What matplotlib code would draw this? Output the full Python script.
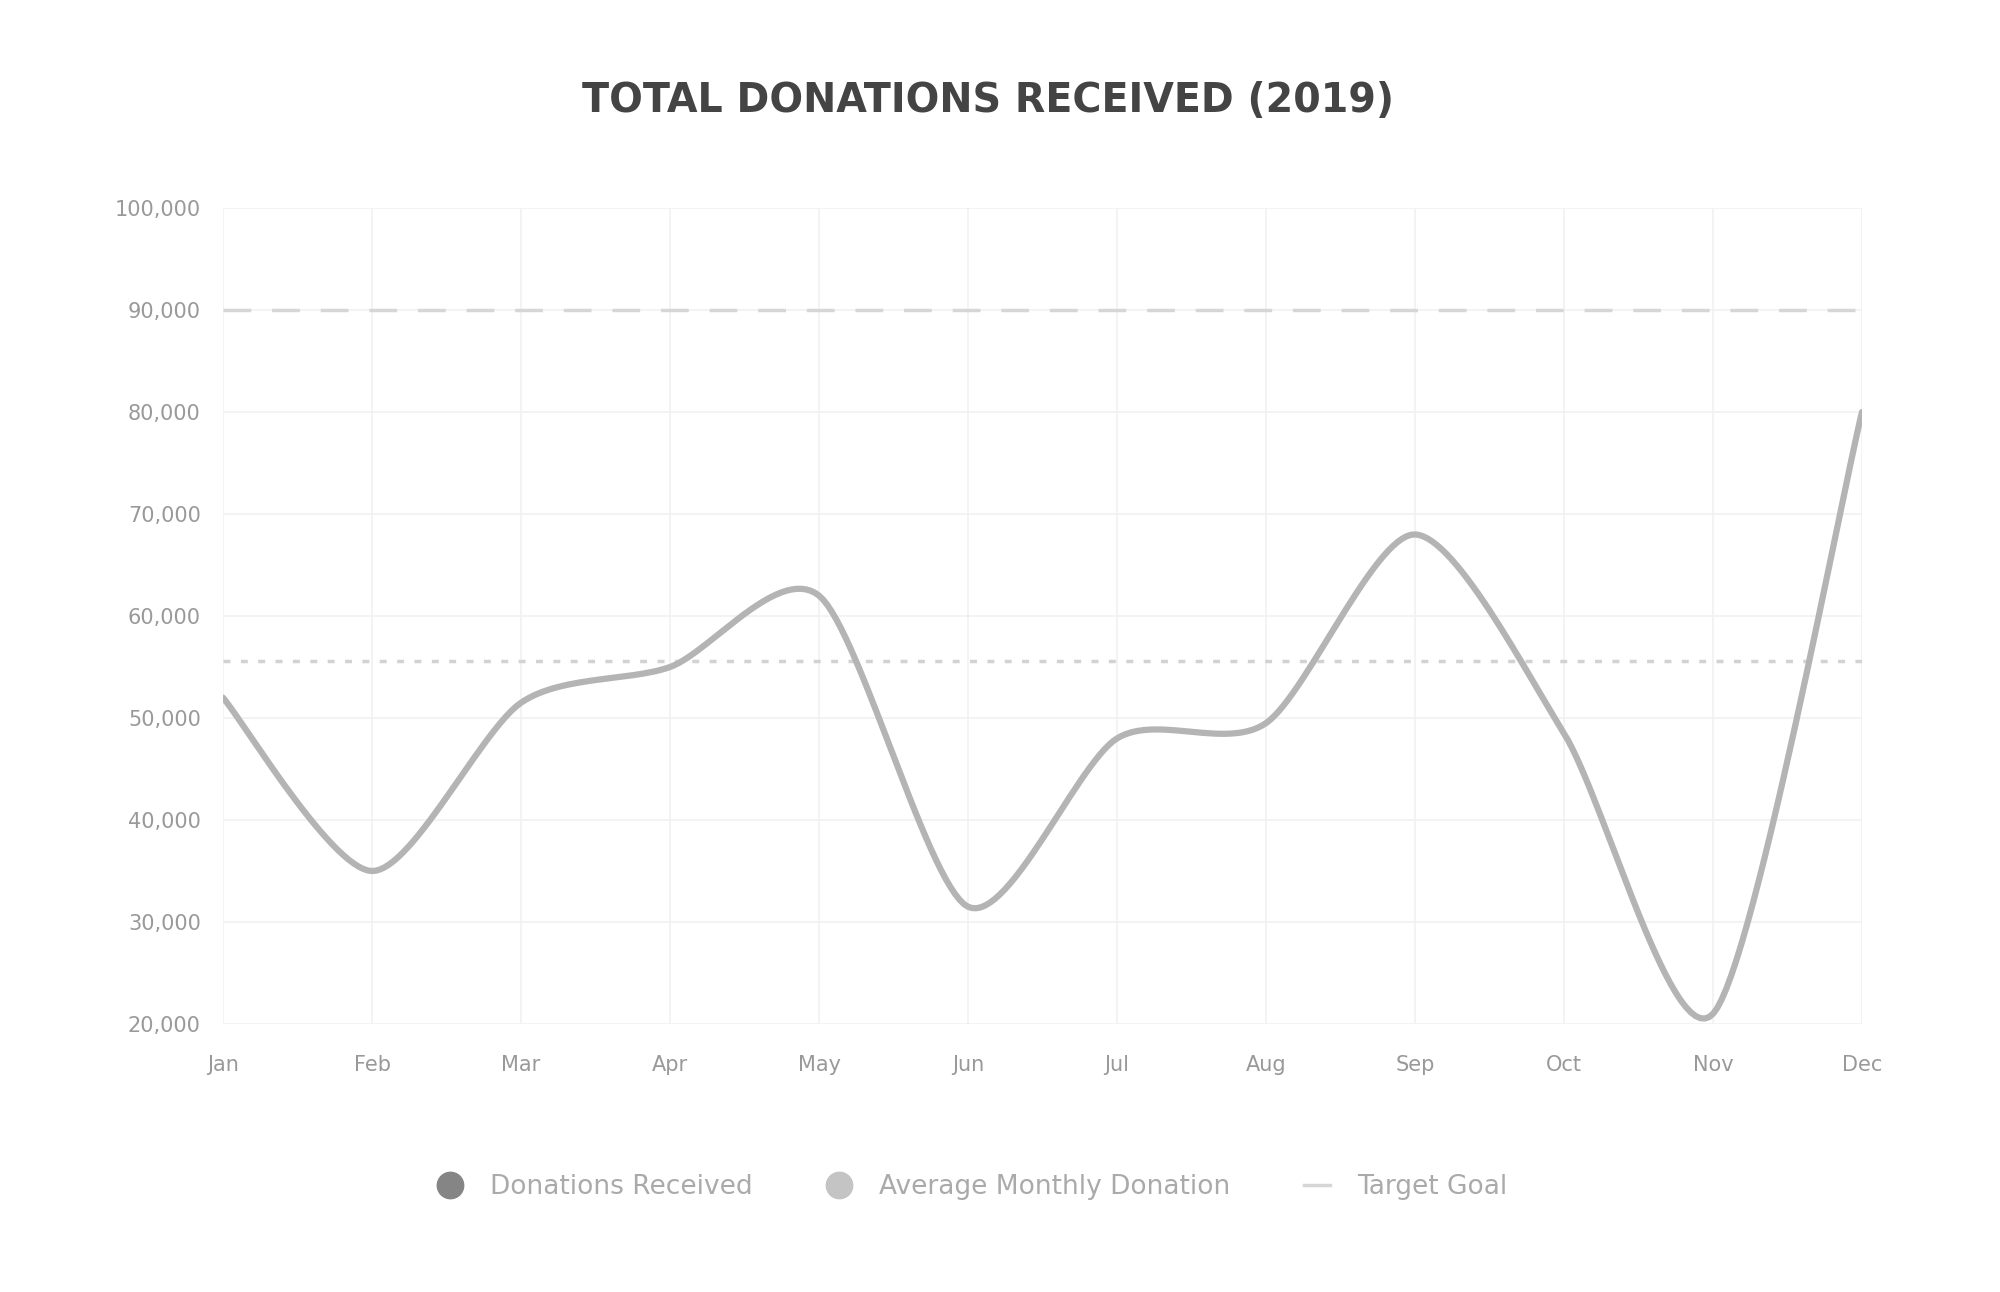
import numpy as np
import matplotlib
matplotlib.use("Agg")
import matplotlib.pyplot as plt
from matplotlib.lines import Line2D

# ---- data ----
months = ["Jan", "Feb", "Mar", "Apr", "May", "Jun", "Jul", "Aug", "Sep", "Oct", "Nov", "Dec"]
donations = [52000, 35000, 51500, 55000, 62000, 31500, 48000, 49500, 68000, 48500, 21000, 80000]
average_value = [55600] * 12
target_value = [90000] * 12
y_ticks = [20000, 30000, 40000, 50000, 60000, 70000, 80000, 90000, 100000]
title = "TOTAL DONATIONS RECEIVED (2019)"
legend_labels = ["Donations Received", "Average Monthly Donation", "Target Goal"]


def smooth(xs, ys, n=30, tension=0.4):
    xs = np.asarray(xs, float)
    ys = np.asarray(ys, float)
    px, py = [], []
    for i in range(len(xs) - 1):
        x0, y0 = xs[max(i - 1, 0)], ys[max(i - 1, 0)]
        x1, y1 = xs[i], ys[i]
        x2, y2 = xs[i + 1], ys[i + 1]
        x3, y3 = xs[min(i + 2, len(xs) - 1)], ys[min(i + 2, len(xs) - 1)]
        t = np.linspace(0, 1, n, endpoint=False)
        m1x, m1y = (x2 - x0) * tension, (y2 - y0) * tension
        m2x, m2y = (x3 - x1) * tension, (y3 - y1) * tension
        h00 = 2 * t**3 - 3 * t**2 + 1
        h10 = t**3 - 2 * t**2 + t
        h01 = -2 * t**3 + 3 * t**2
        h11 = t**3 - t**2
        px.append(h00 * x1 + h10 * m1x + h01 * x2 + h11 * m2x)
        py.append(h00 * y1 + h10 * m1y + h01 * y2 + h11 * m2y)
    px.append([xs[-1]])
    py.append([ys[-1]])
    return np.concatenate(px), np.concatenate(py)


plt.rcParams["font.family"] = ["DejaVu Sans"]

fig = plt.figure(figsize=(20, 12.92), dpi=100)
ax = fig.add_axes([0.1115, 0.2074, 0.8195, 0.6316])

x = np.arange(len(months))
sx, sy = smooth(x, donations)

line_col = "#b4b4b4"
avg_col = "#d2d2d2"
tgt_col = "#d6d6d6"

ax.plot(sx, sy, color=line_col, lw=4.5, solid_capstyle="round", zorder=3)
ax.plot(x, average_value, color=avg_col, lw=2.5, ls=(0, (2, 3)), zorder=2)
ax.plot(x, target_value, color=tgt_col, lw=2.5, ls=(0, (8, 6)), zorder=2)

ax.set_xlim(0, len(months) - 1)
ax.set_ylim(y_ticks[0], y_ticks[-1])
ax.set_xticks(x)
ax.set_xticklabels(months)
ax.set_yticks(y_ticks)
ax.set_yticklabels([f"{v:,}" for v in y_ticks])
ax.tick_params(axis="both", length=0, labelsize=15, colors="#999999")
ax.tick_params(axis="y", pad=16)
ax.tick_params(axis="x", pad=22)
ax.grid(True, color="#f1f1f1", lw=1.2)
for s in ax.spines.values():
    s.set_visible(False)

fig.text(0.494, 0.922, title, ha="center", va="center", fontsize=28.5,
         fontweight="bold", color="#444444")

handles = [
    Line2D([], [], color=line_col, marker="o", ls="none", markersize=19,
           markerfacecolor="#858585", markeredgecolor="#858585"),
    Line2D([], [], color=avg_col, marker="o", ls="none", markersize=19,
           markerfacecolor="#c4c4c4", markeredgecolor="#c4c4c4"),
    Line2D([], [], color=tgt_col, lw=2.5),
]
fig.legend(handles, legend_labels, loc="center", bbox_to_anchor=(0.486, 0.081),
           ncol=3, frameon=False, fontsize=19, labelcolor="#aaaaaa",
           handlelength=1.0, columnspacing=2.8, handletextpad=1.0)

fig.savefig("out.png", dpi=100, facecolor="white")
